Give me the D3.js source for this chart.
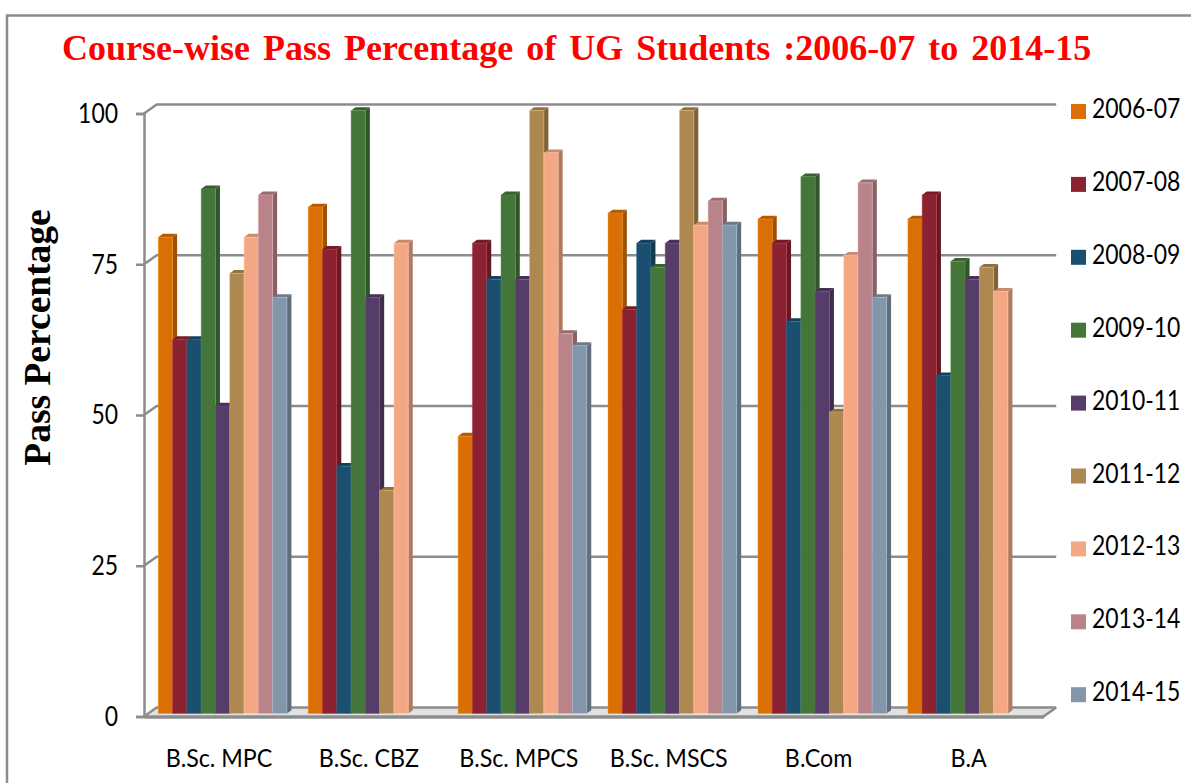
<!DOCTYPE html>
<html>
<head>
<meta charset="utf-8">
<script src="https://cdn.jsdelivr.net/npm/d3@7"></script>
<style>
  html, body { margin: 0; padding: 0; background: #fff; }
  svg { display: block; }
</style>
</head>
<body>
<div id="chart"></div>
<script>
// values
const courses = ['B.Sc. MPC', 'B.Sc. CBZ', 'B.Sc. MPCS', 'B.Sc. MSCS', 'B.Com', 'B.A'];
const years = ['2006-07', '2007-08', '2008-09', '2009-10', '2010-11', '2011-12', '2012-13', '2013-14', '2014-15'];
const colors = ['#d96f05', '#8b2231', '#1a4f70', '#44763a', '#553c69', '#ad8850', '#f4a784', '#b98489', '#8496a9'];
const yTicks = [0, 25, 50, 75, 100];

const y200607 = [79, 84, 46, 83, 82, 82];
const y200708 = [62, 77, 78, 67, 78, 86];
const y200809 = [62, 41, 72, 78, 65, 56];
const y200910 = [87, 100, 86, 74, 89, 75];
const y201011 = [51, 69, 72, 78, 70, 72];
const y201112 = [73, 37, 100, 100, 50, 74];
const y201213 = [79, 78, 93, 81, 76, 70];
const y201314 = [86, null, 63, 85, 88, null];
const y201415 = [69, null, 61, 81, 69, null];
const series = [y200607, y200708, y200809, y200910, y201011, y201112, y201213, y201314, y201415];

const width = 1191, height = 783;
const plotLeft = 144, plotRight = 1043.5, plotTop = 113.5, plotBottom = 716.5;
// offset of the back wall, and of the side/top faces of a bar
const wallX = 12.7, wallY = 9;
const depthX = 4.5, depthY = 3.3;
// bars stand a little behind the front edge of the floor
const barLift = 3;
const gridColor = '#8c8c8c';

// the labels are a tall narrow face, so squeeze Lato to the same width
function squeeze(texts, factor) {
  texts.each(function() {
    const t = d3.select(this);
    const tx = +t.attr('x') || 0;
    const ty = +t.attr('y') || 0;
    t.attr('x', 0)
      .attr('y', 0)
      .attr('transform', 'translate(' + tx + ',' + ty + ') scale(' + factor + ',1)');
  });
}

const svg = d3.select('#chart').append('svg')
  .attr('width', width)
  .attr('height', height);

// outer frame, cut by the edge of the picture
svg.append('path')
  .attr('d', 'M7,' + height + 'V15.5H' + width)
  .attr('fill', 'none')
  .attr('stroke', gridColor)
  .attr('stroke-width', 2.5);

svg.append('text')
  .attr('x', 62)
  .attr('y', 60)
  .attr('font-family', '"Liberation Serif"')
  .attr('font-weight', 'bold')
  .attr('font-size', 36)
  .attr('word-spacing', 4)
  .attr('fill', '#ff0000')
  .text('Course-wise Pass Percentage of UG Students :2006-07 to 2014-15');

svg.append('text')
  .attr('transform', 'translate(50,337.5) rotate(-90)')
  .attr('text-anchor', 'middle')
  .attr('font-family', '"Liberation Serif"')
  .attr('font-weight', 'bold')
  .attr('font-size', 37.5)
  .text('Pass Percentage');

const x = d3.scaleBand().domain(courses).range([plotLeft, plotRight]);
const inner = d3.scaleBand().domain(d3.range(years.length))
  .range([14.3, x.bandwidth() - 7]);
const y = d3.scaleLinear().domain([0, 100]).range([plotBottom, plotTop]);
const barBase = plotBottom - barLift;

// floor
svg.append('polygon')
  .attr('points', [[plotLeft, plotBottom], [plotRight, plotBottom], [plotRight + wallX, plotBottom - wallY], [plotLeft + wallX, plotBottom - wallY]].join(' '))
  .attr('fill', '#e2e2e2');

// back wall gridlines and the little diagonals on the left wall
const grid = svg.append('g')
  .attr('fill', 'none')
  .attr('stroke', gridColor)
  .attr('stroke-width', 2.5);

grid.selectAll('path')
  .data(yTicks)
  .enter()
  .append('path')
  .attr('d', d => 'M' + plotLeft + ',' + y(d) + 'L' + (plotLeft + wallX) + ',' + (y(d) - wallY) + 'H' + (plotRight + wallX));

grid.append('path')
  .attr('d', 'M' + plotRight + ',' + plotBottom + 'L' + (plotRight + wallX) + ',' + (plotBottom - wallY));

// bars, left to right so the next bar hides the side of the one before
const bars = [];
courses.forEach((course, c) => {
  years.forEach((year, s) => {
    if (series[s][c] != null) bars.push({ course: course, s: s, value: series[s][c] });
  });
});

const bar = svg.append('g').selectAll('g')
  .data(bars)
  .enter()
  .append('g')
  .attr('transform', d => 'translate(' + (x(d.course) + inner(d.s)) + ',0)');

// side face
bar.append('polygon')
  .attr('points', d => {
    const w = inner.bandwidth();
    const t = y(d.value) - barLift;
    return [[w, t], [w + depthX, t - depthY], [w + depthX, barBase - depthY], [w, barBase]].join(' ');
  })
  .attr('fill', d => d3.color(colors[d.s]).darker(0.9));

// top face
bar.append('polygon')
  .attr('points', d => {
    const w = inner.bandwidth();
    const t = y(d.value) - barLift;
    return [[0, t], [depthX, t - depthY], [w + depthX, t - depthY], [w, t]].join(' ');
  })
  .attr('fill', d => d3.color(colors[d.s]).darker(0.55));

// front face, with the faint light edge the bars have
bar.append('rect')
  .attr('x', 0)
  .attr('y', d => y(d.value) - barLift)
  .attr('width', inner.bandwidth())
  .attr('height', d => plotBottom - y(d.value))
  .attr('fill', d => colors[d.s])
  .attr('stroke', d => d3.color(colors[d.s]).brighter(0.8))
  .attr('stroke-opacity', 0.45)
  .attr('stroke-width', 1);

// axes
const yAxis = d3.axisLeft(y).tickValues(yTicks).tickSize(8).tickPadding(18);
const gy = svg.append('g')
  .attr('transform', 'translate(' + plotLeft + ',0)')
  .call(yAxis);
gy.select('.domain').attr('stroke', gridColor).attr('stroke-width', 2.5);
gy.selectAll('.tick line').attr('stroke', gridColor).attr('stroke-width', 2.5);
gy.selectAll('.tick text')
  .attr('font-family', 'Lato')
  .attr('font-size', 27)
  .attr('dy', '0.33em')
  .attr('fill', '#000')
  .call(squeeze, 0.85);

const xAxis = d3.axisBottom(x).tickSize(0).tickPadding(33);
const gx = svg.append('g')
  .attr('transform', 'translate(0,' + plotBottom + ')')
  .call(xAxis);
gx.select('.domain').attr('stroke', gridColor).attr('stroke-width', 3.5);
gx.selectAll('.tick text')
  .attr('font-family', 'Lato')
  .attr('font-size', 25)
  .attr('fill', '#000')
  .call(squeeze, 0.93);

// legend
const legendY = d3.scaleBand().domain(years).range([104, 104 + 72.9 * years.length]);
const item = svg.append('g').selectAll('g')
  .data(years)
  .enter()
  .append('g')
  .attr('transform', d => 'translate(1071,' + legendY(d) + ')');

item.append('rect')
  .attr('width', 15)
  .attr('height', 15)
  .attr('fill', (d, i) => colors[i]);

item.append('text')
  .attr('x', 21)
  .attr('y', 14)
  .attr('font-family', 'Lato')
  .attr('font-size', 27)
  .text(d => d)
  .call(squeeze, 0.85);
</script>
</body>
</html>
